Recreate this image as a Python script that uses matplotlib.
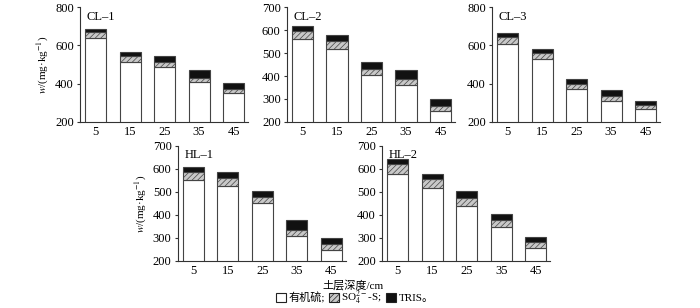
import matplotlib.pyplot as plt
from matplotlib.patches import Patch

plt.rcParams['font.family'] = ['Liberation Serif', 'Noto Sans CJK SC']
plt.rcParams['mathtext.fontset'] = 'stix'
plt.rcParams['hatch.color'] = '#444444'
plt.rcParams['hatch.linewidth'] = 0.5

depths = ['5', '15', '25', '35', '45']
sites = ['CL–1', 'CL–2', 'CL–3', 'HL–1', 'HL–2']

# organic S, SO4-S, TRIS for each site (mg/kg)
organic = {
    'CL–1': [638, 513, 487, 409, 351],
    'CL–2': [562, 519, 406, 362, 248],
    'CL–3': [609, 530, 374, 310, 270],
    'HL–1': [552, 526, 451, 310, 248],
    'HL–2': [579, 515, 440, 348, 258],
}
sulfate = {
    'CL–1': [32, 30, 26, 22, 19],
    'CL–2': [34, 33, 26, 25, 23],
    'CL–3': [34, 30, 26, 24, 17],
    'HL–1': [34, 33, 26, 23, 24],
    'HL–2': [42, 40, 32, 30, 23],
}
tris = {
    'CL–1': [17, 22, 31, 42, 33],
    'CL–2': [21, 25, 29, 38, 29],
    'CL–3': [21, 23, 23, 31, 21],
    'HL–1': [21, 29, 29, 45, 29],
    'HL–2': [21, 22, 32, 25, 22],
}
ylims = {'CL–1': (200, 800), 'CL–2': (200, 700), 'CL–3': (200, 800),
         'HL–1': (200, 700), 'HL–2': (200, 700)}

fig = plt.figure(figsize=(7, 3.08), dpi=100)
W, H = 0.24, 0.373
pos = {
    'CL–1': [0.1143, 0.604, W, H],
    'CL–2': [0.410, 0.604, W, H],
    'CL–3': [0.703, 0.604, W, H],
    'HL–1': [0.254, 0.153, W, H],
    'HL–2': [0.546, 0.153, W, H],
}

edge = '#444444'
hatch_face = '#c8c8c8'
x = list(range(len(depths)))

for s in sites:
    ax = fig.add_axes(pos[s])
    o = organic[s]
    so4 = sulfate[s]
    t = tris[s]
    b2 = [a + b for a, b in zip(o, so4)]
    ax.bar(x, o, width=0.61, color='white', edgecolor=edge, linewidth=0.8)
    ax.bar(x, so4, bottom=o, width=0.61, color=hatch_face, edgecolor=edge,
           linewidth=0.8, hatch='//////')
    ax.bar(x, t, bottom=b2, width=0.61, color='#111111', edgecolor=edge, linewidth=0.8)
    lo, hi = ylims[s]
    ax.set_ylim(lo, hi)
    ax.set_yticks(range(lo, hi + 1, 200 if hi == 800 else 100))
    ax.set_xlim(-0.45, 4.42)
    ax.set_xticks(x)
    ax.set_xticklabels(depths)
    for sp in ['top', 'right']:
        ax.spines[sp].set_visible(False)
    for sp in ['left', 'bottom']:
        ax.spines[sp].set_color('#333333')
        ax.spines[sp].set_linewidth(0.8)
    ax.tick_params(axis='y', length=2.5, width=0.8, labelsize=9, pad=2, color='#333333')
    ax.tick_params(axis='x', length=0, labelsize=9, pad=3)
    ax.text(0.04, 0.97, s, transform=ax.transAxes, fontsize=9, va='top', ha='left')
    if s in ('CL–1', 'HL–1'):
        ax.set_ylabel('$w$/(mg·kg$^{-1}$)', fontsize=8, labelpad=3)

fig.text(0.505, 0.074, '土层深度/cm', ha='center', va='center', fontsize=8)

handles = [
    Patch(facecolor='white', edgecolor='#222222', linewidth=0.8),
    Patch(facecolor=hatch_face, edgecolor='#222222', linewidth=0.8, hatch='//////'),
    Patch(facecolor='#111111', edgecolor='#222222', linewidth=0.8),
]
labels = ['有机硫;', 'SO$_4^{2-}$-S;', 'TRIS。']
fig.legend(handles, labels, loc='center', bbox_to_anchor=(0.507, 0.032), ncol=3,
           frameon=False, fontsize=8, handlelength=0.9, handleheight=0.9,
           handletextpad=0.2, columnspacing=0.4, borderpad=0)

fig.savefig('out.png', dpi=100)
